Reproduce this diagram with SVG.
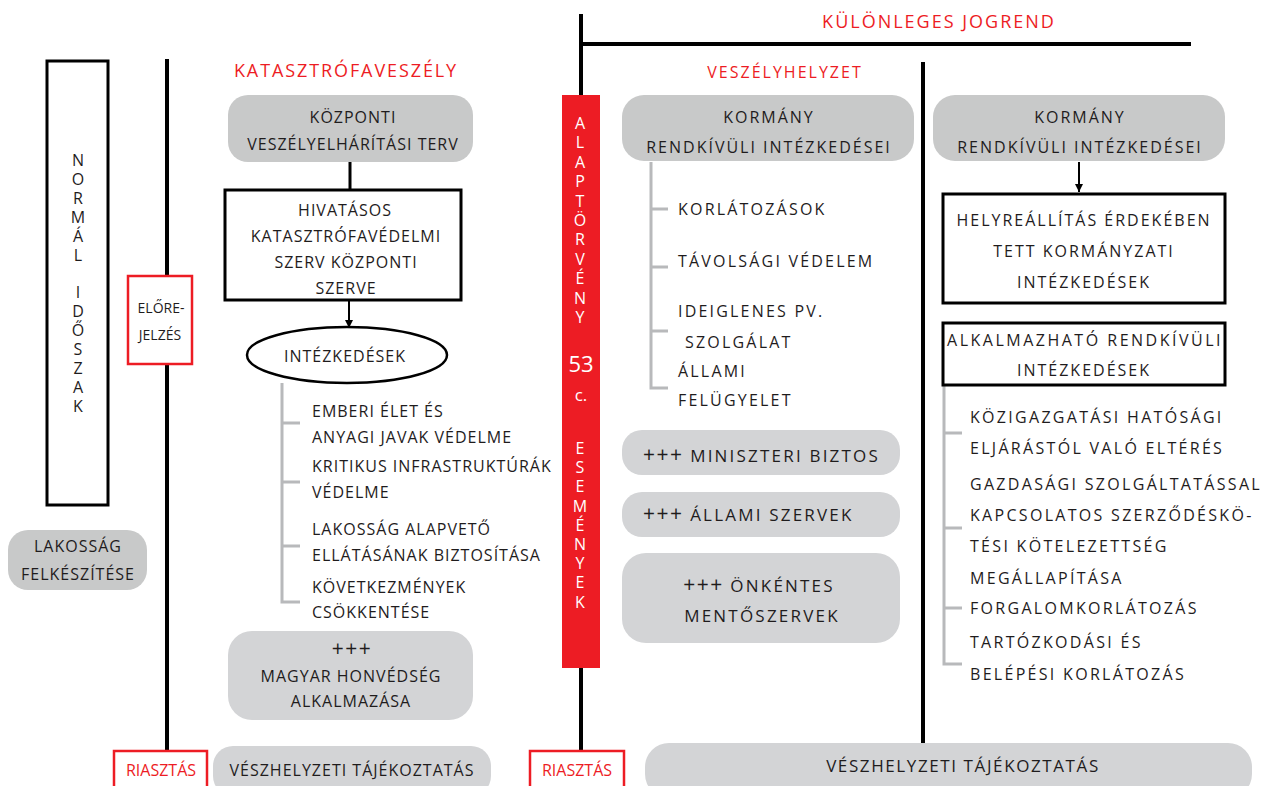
<svg xmlns="http://www.w3.org/2000/svg" width="1266" height="786" viewBox="0 0 1266 786">
<defs>
<style>
text{font-family:"Open Sans","Noto Sans","DejaVu Sans",sans-serif;fill:#1f1c1d;font-size:16px}
.l{letter-spacing:1px}
.r{letter-spacing:2px}
.rl{letter-spacing:2.3px}
.m{text-anchor:middle}
.red{fill:#ed1c24}
.wh{fill:#ffffff;text-anchor:middle}
.vt{writing-mode:vertical-rl;text-orientation:upright}
.g1{fill:#c8c9c9}
.g2{fill:#d3d4d6}
.blk{fill:none;stroke:#000;stroke-width:4}
.box{fill:#fff;stroke:#000;stroke-width:3}
.rbox{fill:#fff;stroke:#ed1c24;stroke-width:2.5}
.br{fill:none;stroke:#b8b9bb;stroke-width:3}
.big{font-size:17px;letter-spacing:2.2px}
.pl{font-size:21px;letter-spacing:1.5px}
</style>
<marker id="ah" viewBox="0 0 10 10" refX="10" refY="5" markerWidth="8" markerHeight="8" markerUnits="userSpaceOnUse" orient="auto">
<path d="M0,0 L10,5 L0,10 z" fill="#000"/>
</marker>
</defs>

<g id="connectors">
<line class="blk" x1="167" y1="59" x2="167" y2="751"/>
<line class="blk" x1="581" y1="14" x2="581" y2="751"/>
<line class="blk" x1="579" y1="44" x2="1191" y2="44"/>
<line class="blk" x1="923" y1="62" x2="923" y2="744"/>
<line stroke="#000" stroke-width="3" x1="350" y1="162" x2="350" y2="190"/>
<line stroke="#000" stroke-width="2" x1="349" y1="300" x2="349" y2="328" marker-end="url(#ah)"/>
<line stroke="#000" stroke-width="2" x1="1079" y1="162" x2="1079" y2="192" marker-end="url(#ah)"/>
<path class="br" d="M282,383 V602 H300 M282,423 H300 M282,482 H300 M282,546 H300"/>
<path class="br" d="M651,162 V388 H668 M651,209 H668 M651,267 H668 M651,331 H668"/>
<path class="br" d="M944,385 V664 H962 M944,433 H962 M944,528 H962 M944,608 H962"/>
</g>

<g id="title-kulonleges">
<text class="red" x="939" y="28" text-anchor="middle" style="font-size:18px;letter-spacing:2px">KÜLÖNLEGES JOGREND</text>
</g>
<g id="title-katasztrofa">
<text class="red" x="346" y="77" text-anchor="middle" style="font-size:18px;letter-spacing:1.9px">KATASZTRÓFAVESZÉLY</text>
</g>
<g id="title-veszely">
<text class="red" x="785" y="78" text-anchor="middle" style="letter-spacing:2px">VESZÉLYHELYZET</text>
</g>

<g id="normal-idoszak">
<rect class="box" x="47" y="61" width="61" height="444" stroke-width="2.5"/>
<text class="vt" x="78" y="149" style="letter-spacing:-3.1px">NORMÁL IDŐSZAK</text>
</g>

<g id="elorejelzes">
<rect class="rbox" x="128" y="276" width="64" height="88"/>
<text class="m" x="161" y="313" style="font-size:14px">ELŐRE-</text>
<text class="m" x="160" y="340" style="font-size:14px">JELZÉS</text>
</g>

<g id="lakossag">
<rect class="g1" x="8" y="530" width="139" height="60" rx="20"/>
<text class="m l" x="78" y="552">LAKOSSÁG</text>
<text class="m l" x="78" y="580">FELKÉSZÍTÉSE</text>
</g>

<g id="kozponti-terv">
<rect class="g1" x="228" y="95" width="245" height="67" rx="20"/>
<text class="m l" x="353" y="123">KÖZPONTI</text>
<text class="m l" x="353" y="150">VESZÉLYELHÁRÍTÁSI TERV</text>
</g>

<g id="hivatasos">
<rect class="box" x="225" y="190" width="236" height="110"/>
<text class="m l" x="345" y="216">HIVATÁSOS</text>
<text class="m l" x="346" y="242">KATASZTRÓFAVÉDELMI</text>
<text class="m l" x="346" y="268">SZERV KÖZPONTI</text>
<text class="m l" x="346" y="294">SZERVE</text>
</g>

<g id="intezkedesek">
<ellipse cx="347" cy="355" rx="100" ry="28" fill="#fff" stroke="#000" stroke-width="2.5"/>
<text class="m l" x="345" y="362">INTÉZKEDÉSEK</text>
</g>

<g id="kat-lista">
<text class="l" x="312" y="417">EMBERI ÉLET ÉS</text>
<text class="l" x="312" y="443">ANYAGI JAVAK VÉDELME</text>
<text class="l" x="312" y="472">KRITIKUS INFRASTRUKTÚRÁK</text>
<text class="l" x="312" y="498">VÉDELME</text>
<text class="l" x="312" y="535">LAKOSSÁG ALAPVETŐ</text>
<text class="l" x="312" y="561">ELLÁTÁSÁNAK BIZTOSÍTÁSA</text>
<text class="l" x="312" y="593">KÖVETKEZMÉNYEK</text>
<text class="l" x="312" y="618">CSÖKKENTÉSE</text>
</g>

<g id="honvedseg">
<rect class="g2" x="228" y="631" width="245" height="89" rx="24"/>
<text class="m pl" x="352" y="656">+++</text>
<text class="m l" x="351" y="682">MAGYAR HONVÉDSÉG</text>
<text class="m l" x="351" y="707">ALKALMAZÁSA</text>
</g>

<g id="riasztas-1">
<rect class="rbox" x="114" y="751" width="93" height="45"/>
<text class="red m" x="161" y="776">RIASZTÁS</text>
</g>
<g id="tajekoztatas-1">
<rect class="g2" x="213" y="746" width="278" height="50" rx="20"/>
<text class="m l" x="352" y="776">VÉSZHELYZETI TÁJÉKOZTATÁS</text>
</g>

<g id="alaptorveny">
<rect x="562" y="95" width="38" height="573" fill="#ed1c24"/>
<text class="vt" x="580" y="112" style="fill:#fff;letter-spacing:-2.6px">ALAPTÖRVÉNY</text>
<text class="wh" x="581" y="372" style="font-size:22px">53</text>
<text class="wh" x="581" y="401" style="font-size:17px">c.</text>
<text class="vt" x="580" y="437" style="fill:#fff;letter-spacing:-2.8px">ESEMÉNYEK</text>
</g>

<g id="riasztas-2">
<rect class="rbox" x="530" y="751" width="94" height="45"/>
<text class="red m" x="577" y="776">RIASZTÁS</text>
</g>

<g id="kormany-1">
<rect class="g1" x="622" y="95" width="292" height="66" rx="22"/>
<text class="m r" x="769" y="123">KORMÁNY</text>
<text class="m r" x="769" y="153">RENDKÍVÜLI INTÉZKEDÉSEI</text>
</g>

<g id="vesz-lista">
<text class="r" x="678" y="215" style="letter-spacing:2.2px">KORLÁTOZÁSOK</text>
<text class="r" x="678" y="267" style="letter-spacing:2.2px">TÁVOLSÁGI VÉDELEM</text>
<text class="r" x="678" y="317" style="letter-spacing:2.2px">IDEIGLENES PV.</text>
<text class="r" x="685" y="348" style="letter-spacing:2.2px">SZOLGÁLAT</text>
<text class="r" x="678" y="377" style="letter-spacing:2.2px">ÁLLAMI</text>
<text class="r" x="678" y="406" style="letter-spacing:2.2px">FELÜGYELET</text>
</g>

<g id="miniszteri">
<rect class="g2" x="622" y="430" width="278" height="45" rx="20"/>
<text class="big" x="643" y="462"><tspan class="pl">+++</tspan> MINISZTERI BIZTOS</text>
</g>
<g id="allami-szervek">
<rect class="g2" x="622" y="492" width="278" height="45" rx="20"/>
<text class="big" x="643" y="521"><tspan class="pl">+++</tspan> ÁLLAMI SZERVEK</text>
</g>
<g id="onkentes">
<rect class="g2" x="622" y="553" width="278" height="90" rx="24"/>
<text class="big m" x="759" y="592"><tspan class="pl">+++</tspan> ÖNKÉNTES</text>
<text class="big m" x="762" y="622">MENTŐSZERVEK</text>
</g>

<g id="kormany-2">
<rect class="g1" x="933" y="95" width="292" height="66" rx="22"/>
<text class="m r" x="1080" y="123">KORMÁNY</text>
<text class="m r" x="1080" y="153">RENDKÍVÜLI INTÉZKEDÉSEI</text>
</g>

<g id="helyreallitas">
<rect class="box" x="943" y="194" width="282" height="109"/>
<text class="m r" x="1084" y="226">HELYREÁLLÍTÁS ÉRDEKÉBEN</text>
<text class="m r" x="1084" y="257">TETT KORMÁNYZATI</text>
<text class="m r" x="1084" y="288">INTÉZKEDÉSEK</text>
</g>

<g id="alkalmazhato">
<rect class="box" x="943" y="323" width="282" height="62" stroke-width="2.5"/>
<text class="m" x="1085" y="346" style="letter-spacing:2.5px">ALKALMAZHATÓ RENDKÍVÜLI</text>
<text class="m r" x="1084" y="376">INTÉZKEDÉSEK</text>
</g>

<g id="rendk-lista">
<text class="rl" x="970" y="423">KÖZIGAZGATÁSI HATÓSÁGI</text>
<text class="rl" x="970" y="454">ELJÁRÁSTÓL VALÓ ELTÉRÉS</text>
<text class="rl" x="970" y="490">GAZDASÁGI SZOLGÁLTATÁSSAL</text>
<text class="rl" x="970" y="521">KAPCSOLATOS SZERZŐDÉSKÖ-</text>
<text class="rl" x="970" y="552">TÉSI KÖTELEZETTSÉG</text>
<text class="rl" x="970" y="584">MEGÁLLAPÍTÁSA</text>
<text class="rl" x="970" y="614">FORGALOMKORLÁTOZÁS</text>
<text class="rl" x="970" y="648">TARTÓZKODÁSI ÉS</text>
<text class="rl" x="970" y="680">BELÉPÉSI KORLÁTOZÁS</text>
</g>

<g id="tajekoztatas-2">
<rect class="g2" x="645" y="743" width="607" height="55" rx="24"/>
<text class="m" x="963" y="772" style="font-size:17px;letter-spacing:1.6px">VÉSZHELYZETI TÁJÉKOZTATÁS</text>
</g>
</svg>
